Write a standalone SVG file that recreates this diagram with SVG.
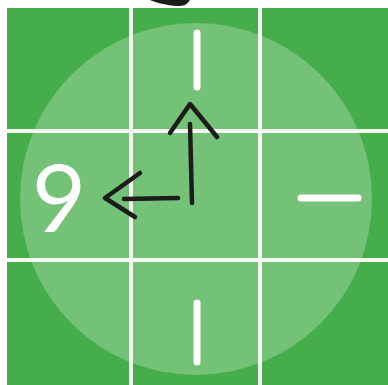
<svg xmlns="http://www.w3.org/2000/svg" width="388" height="385" viewBox="0 0 388 385">
<style>
.cell{fill:#46ad4b}
.grid{stroke:#f4f8f0;stroke-width:4}
.tick{stroke:#ffffff;stroke-width:7;stroke-linecap:round;fill:none}
.pen{stroke:#1c1c1a;stroke-width:4.5;stroke-linecap:round;stroke-linejoin:round;fill:none}
.num{font-family:Lato,"Open Sans",sans-serif;font-size:94px;fill:#ffffff}
</style>
<rect width="388" height="385" fill="#ffffff"/>
<g id="board">
<rect class="cell" x="7" y="8" width="381" height="377"/>
<circle cx="196" cy="199" r="176" fill="#ffffff" fill-opacity="0.25"/>
<line class="grid" x1="131" y1="8" x2="131" y2="385"/>
<line class="grid" x1="260" y1="8" x2="260" y2="385"/>
<line class="grid" x1="7" y1="131" x2="388" y2="131"/>
<line class="grid" x1="7" y1="260" x2="388" y2="260"/>
</g>
<g id="top-blob"><path d="M150 0 C160 4 172 6 180 6 C185 6 188 3 190 0 Z" fill="#1c1c1a"/></g>
<g id="tick-12"><line class="tick" x1="197" y1="33" x2="197" y2="87"/></g>
<g id="tick-6"><line class="tick" x1="197" y1="303" x2="197" y2="362"/></g>
<g id="tick-3"><line class="tick" x1="301" y1="198" x2="358" y2="198"/></g>
<g id="label-9"><text class="num" x="59" y="232" text-anchor="middle">9</text></g>
<g id="connectors">
<path class="pen" d="M192 203 L190 124"/>
<path class="pen" d="M170 133 L190 104 L217 137"/>
<path class="pen" d="M178 198 L124 199"/>
<path class="pen" d="M140 173 L105 198 L135 217"/>
</g>
</svg>
